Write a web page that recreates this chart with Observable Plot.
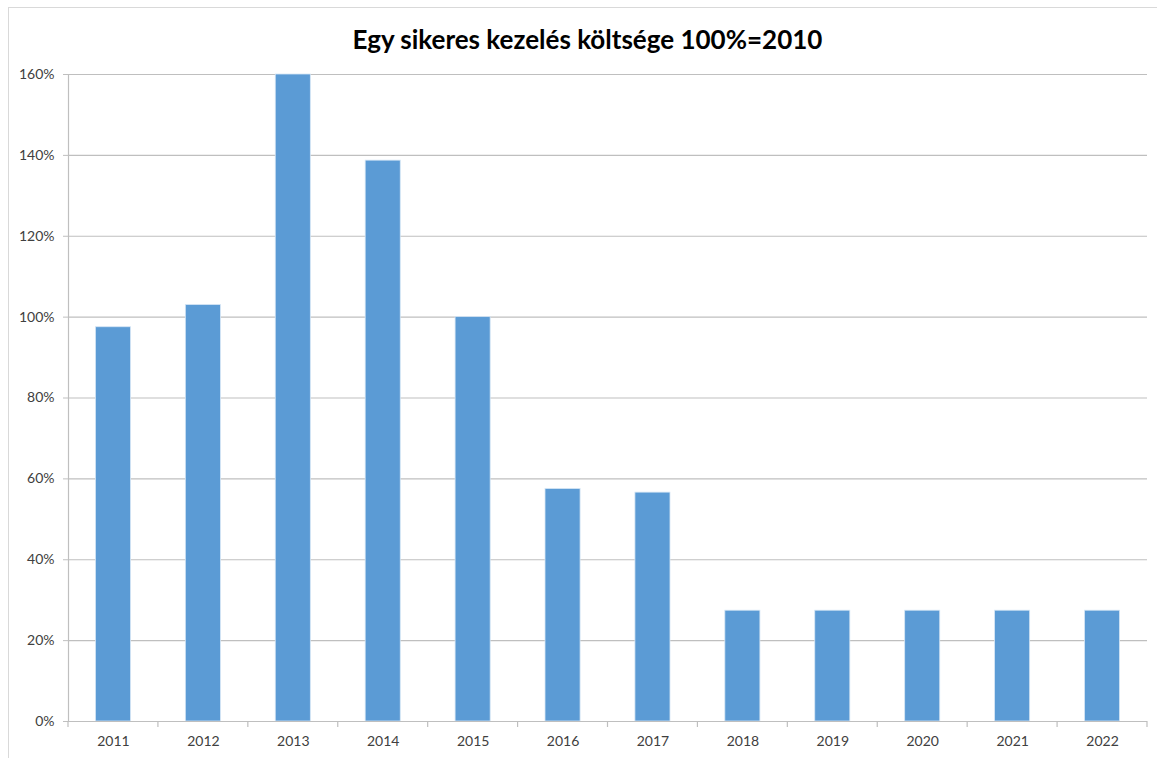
<!DOCTYPE html>
<html>
<head>
<meta charset="utf-8">
<script src="https://cdn.jsdelivr.net/npm/d3@7"></script>
<script src="https://cdn.jsdelivr.net/npm/@observablehq/plot@0.6"></script>
<style>
  html, body { margin: 0; padding: 0; background: #fff; }
  #wrap { position: relative; width: 1157px; height: 758px; overflow: hidden; font-family: Lato, "Open Sans", sans-serif; }
  #frame { position: absolute; left: 8px; top: 7px; width: 1200px; height: 800px; border: 1px solid #d9d9d9; box-sizing: border-box; pointer-events: none; }
  #title { position: absolute; left: 0; top: 0; width: 1157px; height: 60px; text-align: center; font-weight: bold; font-size: 26px; line-height: 26px; padding-top: 26px; padding-left: 18px; box-sizing: border-box; color: #000; }
  #chart { position: absolute; left: 0; top: 60px; }
</style>
</head>
<body>
<div id="wrap">
  <div id="frame"></div>
  <div id="title">Egy sikeres kezelés költsége 100%=2010</div>
  <div id="chart"></div>
</div>
<script>
const years = ["2011","2012","2013","2014","2015","2016","2017","2018","2019","2020","2021","2022"];
const values = [97.5, 103.0, 160.0, 138.7, 100.0, 57.5, 56.6, 27.4, 27.4, 27.4, 27.4, 27.4];
const yTicks = [0, 20, 40, 60, 80, 100, 120, 140, 160];

const data = years.map((y, i) => ({year: y, value: values[i]}));

const W = 1157, H = 698;
const mL = 68, mR = 10, mT = 14, mB = 37;

const plot = Plot.plot({
  width: W,
  height: H,
  marginLeft: mL,
  marginRight: mR,
  marginTop: mT,
  marginBottom: mB,
  style: {fontFamily: "Lato, 'Open Sans', sans-serif", fontSize: "14px", color: "#404040", background: "transparent"},
  x: {domain: years, paddingInner: 0.61, paddingOuter: 0.305, round: false, label: null},
  y: {domain: [0, 160], label: null},
  marks: [
    Plot.ruleY(yTicks, {stroke: "#bfbfbf", strokeWidth: 1.2, strokeOpacity: 1}),
    Plot.barY(data, {x: "year", y: "value", fill: "#5b9bd5", stroke: "#d6e6f5", strokeWidth: 0.8}),
    Plot.ruleY([0], {stroke: "#bfbfbf", strokeWidth: 1.2}),
    Plot.frame({anchor: "left", stroke: "#bfbfbf", strokeWidth: 1.2}),
    Plot.axisY({ticks: yTicks, tickFormat: d => d + "%", tickSize: 5, tickPadding: 9, stroke: "#bfbfbf", fill: "#404040", fontSize: 14}),
    Plot.axisX({tickSize: 0, tickPadding: 15, fill: "#404040", fontSize: 14})
  ]
});

document.getElementById("chart").appendChild(plot);

// Category boundary tick marks below the x axis line, from the library's x scale
const xs = plot.scale("x");
const ys = plot.scale("y");
const y0 = ys.apply(0);
const g = d3.select(plot).append("g").attr("stroke", "#bfbfbf").attr("stroke-width", 1.2);
const bounds = years.map(yr => xs.apply(yr) + xs.bandwidth / 2 - xs.step / 2);
bounds.push(xs.apply(years[years.length - 1]) + xs.bandwidth / 2 + xs.step / 2);
bounds.forEach(xb => {
  g.append("line").attr("x1", xb).attr("x2", xb).attr("y1", y0).attr("y2", y0 + 6);
});
</script>
</body>
</html>
